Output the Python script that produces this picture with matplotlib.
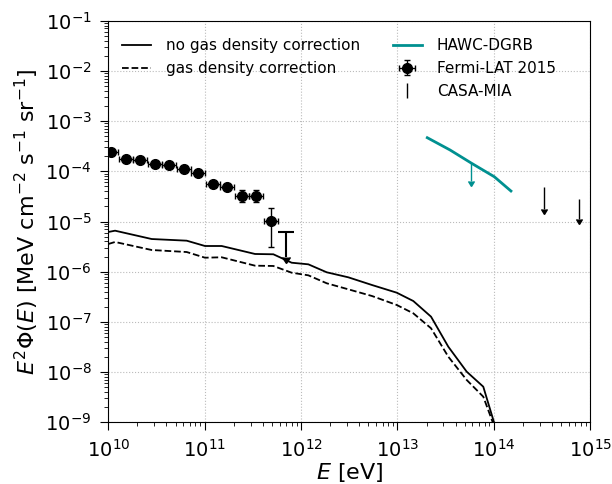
import numpy as np
import matplotlib
matplotlib.use("Agg")
import matplotlib.pyplot as plt
from matplotlib.lines import Line2D, CARETDOWNBASE

# model curves (log10 E [eV], log10 E^2 Phi)
logE_model = [10.0, 10.070, 10.450, 10.813, 11.003, 11.176, 11.522, 11.712, 11.902,
              12.075, 12.266, 12.490, 12.735, 12.992, 13.164, 13.348, 13.527, 13.718,
              13.890, 13.994, 14.1]
logF_nocorr = [-5.209, -5.183, -5.349, -5.382, -5.488, -5.488, -5.647, -5.653, -5.821,
               -5.853, -6.012, -6.112, -6.265, -6.418, -6.584, -6.896, -7.494, -7.992,
               -8.291, -8.954, -9.63]
logF_corr = [-5.448, -5.408, -5.568, -5.608, -5.721, -5.713, -5.880, -5.886, -6.020,
             -6.072, -6.231, -6.351, -6.484, -6.663, -6.829, -7.127, -7.693, -8.157,
             -8.490, -9.03, -9.7]

# Fermi-LAT 2015
fermi_logE = [10.028, 10.180, 10.329, 10.484, 10.633, 10.785, 10.934, 11.083, 11.231,
              11.384, 11.532, 11.685]
fermi_flux = [2.42e-4, 1.78e-4, 1.66e-4, 1.38e-4, 1.33e-4, 1.11e-4, 9.1e-5, 5.5e-5,
              4.86e-5, 3.27e-5, 3.22e-5, 1.02e-5]
fermi_lo = [2.21e-4, 1.62e-4, 1.51e-4, 1.26e-4, 1.21e-4, 1.01e-4, 8.3e-5, 4.8e-5,
            4.23e-5, 2.48e-5, 2.44e-5, 3.06e-6]
fermi_hi = [2.65e-4, 1.95e-4, 1.82e-4, 1.51e-4, 1.46e-4, 1.22e-4, 1.0e-4, 6.3e-5,
            5.58e-5, 4.31e-5, 4.24e-5, 1.83e-5]
fermi_ul_E = 6.97e11
fermi_ul = 6.1e-6
fermi_ul_tip = 1.99e-6

# HAWC-DGRB
hawc_logE = [13.309, 13.545, 13.770, 14.004, 14.177]
hawc_flux = [4.67e-4, 2.66e-4, 1.44e-4, 7.8e-5, 4.05e-5]
hawc_ul_E = 5.79e13
hawc_ul = 1.44e-4
hawc_ul_tip = 6.4e-5

# CASA-MIA upper limits
casa_E = [3.29e14, 7.64e14]
casa_ul = [4.8e-5, 2.81e-5]
casa_tip = [1.75e-5, 1.11e-5]

fig = plt.figure(figsize=(6.12, 4.84), dpi=100)
ax = fig.add_axes([0.177, 0.1275, 0.7875, 0.8297])

E_model = 10 ** np.array(logE_model)
ax.plot(E_model, 10 ** np.array(logF_nocorr), 'k-', lw=1.3, label='no gas density correction')
ax.plot(E_model, 10 ** np.array(logF_corr), 'k--', lw=1.3, label='gas density correction')

teal = '#009090'
ax.plot(10 ** np.array(hawc_logE), hawc_flux, color=teal, lw=2, label='HAWC-DGRB')
ax.vlines([hawc_ul_E], [hawc_ul_tip], [hawc_ul], color=teal, lw=1)
ax.plot([hawc_ul_E], [hawc_ul_tip], ls='none', marker=CARETDOWNBASE, ms=5, color=teal)

fE = 10 ** np.array(fermi_logE)
xlo = fE - 10 ** (np.array(fermi_logE) - 0.074)
xhi = 10 ** (np.array(fermi_logE) + 0.074) - fE
yerr = [np.array(fermi_flux) - np.array(fermi_lo), np.array(fermi_hi) - np.array(fermi_flux)]
ax.errorbar(fE, fermi_flux, xerr=[xlo, xhi], yerr=yerr, fmt='o', color='k', ms=7,
            elinewidth=1, capsize=2, label='Fermi-LAT 2015')

# Fermi upper limit: cap on top, arrow down
ax.vlines([fermi_ul_E], [fermi_ul_tip], [fermi_ul], color='k', lw=1.5)
ax.plot([fermi_ul_E], [fermi_ul_tip], ls='none', marker=CARETDOWNBASE, ms=6, color='k')
ax.plot([fermi_ul_E], [fermi_ul], marker='_', ms=12, mew=1.5, color='k')

# CASA-MIA
ax.vlines(casa_E, casa_tip, casa_ul, color='k', lw=1)
ax.plot(casa_E, casa_tip, ls='none', marker=CARETDOWNBASE, ms=5, color='k')
casa_handle = ax.errorbar([], [], yerr=[], uplims=True, fmt='none', ecolor='k', color='k',
                          elinewidth=1, capsize=2.5)

ax.set_xscale('log')
ax.set_yscale('log')
ax.set_xlim(1e10, 1e15)
ax.set_ylim(1e-9, 1e-1)
ax.set_xticks([1e10, 1e11, 1e12, 1e13, 1e14, 1e15])
ax.set_yticks([10.0 ** k for k in range(-9, 0)])
ax.grid(True, which='major', ls=':', color='#bbbbbb', lw=0.8)
ax.tick_params(labelsize=14)
ax.tick_params(which='major', length=6, pad=6)
ax.tick_params(which='minor', length=3.2)
ax.set_xlabel(r'$E$ [eV]', fontsize=16, labelpad=0)
ax.set_ylabel(r'$E^2\Phi(E)$ [MeV cm$^{-2}$ s$^{-1}$ sr$^{-1}$]', fontsize=16, labelpad=3)

handles, labels = ax.get_legend_handles_labels()
hmap = dict(zip(labels, handles))
blank = Line2D([], [], alpha=0)
leg_h = [hmap['no gas density correction'], hmap['gas density correction'], blank,
         hmap['HAWC-DGRB'], hmap['Fermi-LAT 2015'], casa_handle]
leg_l = ['no gas density correction', 'gas density correction', ' ',
         'HAWC-DGRB', 'Fermi-LAT 2015', 'CASA-MIA']
ax.legend(leg_h, leg_l, loc='upper left', ncol=2, frameon=False, fontsize=11,
          columnspacing=2.1, handlelength=1.9, handletextpad=1.0,
          bbox_to_anchor=(0.0, 0.99))

fig.savefig('out.png', dpi=100)
